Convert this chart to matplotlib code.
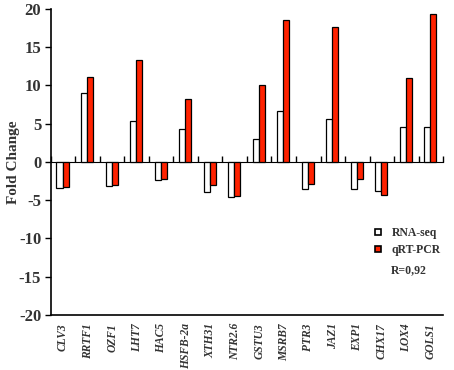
import numpy as np
import matplotlib
matplotlib.use("Agg")
import matplotlib.pyplot as plt
from matplotlib.lines import Line2D

genes = ["CLV3", "RRTF1", "OZF1", "LHT7", "HAC5", "HSFB-2a", "XTH31", "NTR2.6",
         "GSTU3", "MSRB7", "PTR3", "JAZ1", "EXP1", "CHX17", "LOX4", "GOLS1"]
rna_seq = [-3.4, 9.0, -3.1, 5.4, -2.4, 4.3, -4.0, -4.6,
           3.0, 6.6, -3.6, 5.6, -3.5, -3.8, 4.5, 4.6]
qrt_pcr = [-3.3, 11.1, -3.0, 13.3, -2.3, 8.2, -3.0, -4.45,
           10.1, 18.5, -2.9, 17.6, -2.2, -4.3, 10.9, 19.3]
y_ticks = [-20, -15, -10, -5, 0, 5, 10, 15, 20]
r_text = "R=0,92"

txt = "#333333"
red = "#ff2200"
plt.rcParams["font.family"] = ["Liberation Serif", "DejaVu Serif"]

fig = plt.figure(figsize=(4.54, 3.70), dpi=100)
ax = fig.add_axes([0.112, 0.149, 0.864, 0.827])

x = np.arange(len(genes))
w = 0.25
ax.bar(x - w / 2 - 0.02, rna_seq, w, color="white", edgecolor="black", linewidth=0.9)
ax.bar(x + w / 2 - 0.02, qrt_pcr, w, color=red, edgecolor="black", linewidth=0.9)

ax.set_xlim(-0.5, len(genes) - 0.5)
ax.set_ylim(-20, 20)
ax.set_yticks(y_ticks)
ax.set_yticklabels([str(t) for t in y_ticks], fontsize=12, fontweight="bold", color=txt)
ax.tick_params(axis="y", direction="out", length=4, width=1, pad=3)

ax.set_xticks(x)
ax.set_xticklabels(genes, rotation=90, fontsize=8.3, fontstyle="italic",
                   fontweight="bold", color=txt)
ax.tick_params(axis="x", length=0, pad=6)

for s in ["top", "right"]:
    ax.spines[s].set_visible(False)
for s in ["left", "bottom"]:
    ax.spines[s].set_linewidth(1.2)

# zero line with ticks between groups
zero = ax.secondary_xaxis(0.5)
zero.set_xticks(np.arange(len(genes) + 1) - 0.5)
zero.set_xticklabels([])
zero.tick_params(direction="out", length=4, width=1)
zero.spines["bottom"].set_linewidth(1.2)

ax.set_ylabel("Fold Change", fontsize=11, fontweight="bold", color=txt)
ax.yaxis.set_label_coords(-0.079, 0.5)

handles = [
    Line2D([], [], marker="s", linestyle="none", markersize=5,
           markerfacecolor="white", markeredgecolor="black", markeredgewidth=1.2),
    Line2D([], [], marker="s", linestyle="none", markersize=5,
           markerfacecolor=red, markeredgecolor="black", markeredgewidth=1.2),
]
leg = ax.legend(handles, ["RNA-seq", "qRT-PCR"], loc="center left",
                bbox_to_anchor=(0.823, 0.239), frameon=False, handlelength=0.8,
                handletextpad=0.7, labelspacing=0.38, borderpad=0, borderaxespad=0,
                prop={"weight": "bold", "size": 8.5})
for t in leg.get_texts():
    t.set_color(txt)
ax.text(0.867, 0.147, r_text, transform=ax.transAxes, fontsize=8.5,
        fontweight="bold", color=txt, va="center")

fig.savefig("out.png", dpi=100)
